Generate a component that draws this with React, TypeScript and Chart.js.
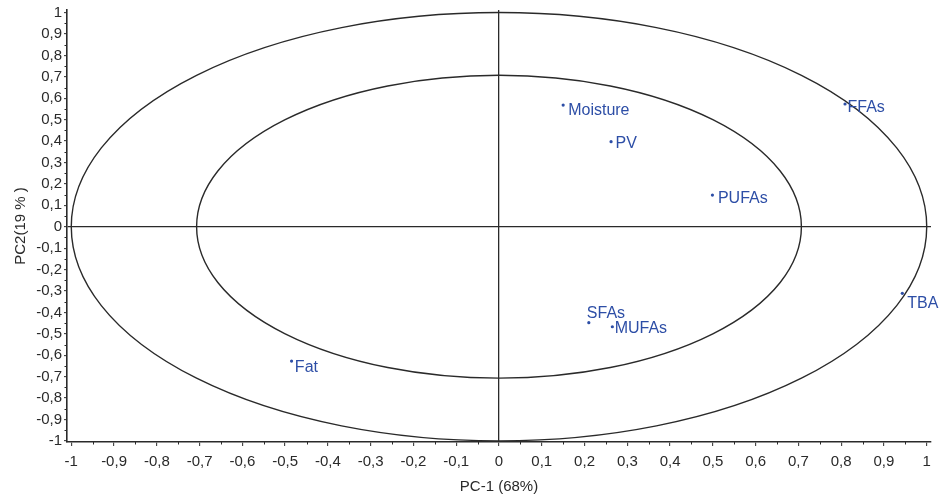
import React, { useEffect, useRef } from 'react';
import { Chart, registerables } from 'chart.js';

Chart.register(...registerables);

// ---- data ----
const variables = ['Moisture', 'PV', 'PUFAs', 'FFAs', 'TBA', 'SFAs', 'MUFAs', 'Fat'];
const pc1 = [0.15, 0.262, 0.499, 0.809, 0.943, 0.21, 0.265, -0.485];
const pc2 = [0.568, 0.397, 0.148, 0.573, -0.311, -0.448, -0.467, -0.627];
const axisTicks = [-1, -0.9, -0.8, -0.7, -0.6, -0.5, -0.4, -0.3, -0.2, -0.1, 0, 0.1, 0.2, 0.3, 0.4, 0.5, 0.6, 0.7, 0.8, 0.9, 1];
const circleRadii = [1, 0.707];
const xTitle = 'PC-1 (68%)';
const yTitle = 'PC2(19 % )';

// label placement relative to the point (px; alphabetic baseline)
const labelOffsets: Record<string, [number, number]> = {
  Moisture: [5, 10],
  PV: [4.5, 6.6],
  PUFAs: [5.5, 7.7],
  FFAs: [2.5, 8.3],
  TBA: [5, 14.4],
  SFAs: [-2, -4.4],
  MUFAs: [2.3, 6],
  Fat: [3.3, 10.7],
};

const INK = '#2a2a2a';
const BLUE = '#2d4ea6';
const FONT = '"Liberation Sans", Arial, sans-serif';

const fmt = (v: number) => {
  if (v === 0) return '0';
  if (Math.abs(v) === 1) return String(v);
  return v.toFixed(1).replace('.', ',');
};

const overlay = {
  id: 'overlay',
  beforeDatasetsDraw(chart: any) {
    const { ctx, scales } = chart;
    const x = scales.x;
    const y = scales.y;
    const cx = x.getPixelForValue(0);
    const cy = y.getPixelForValue(0);
    ctx.save();
    ctx.strokeStyle = INK;
    ctx.lineWidth = 1.4;
    circleRadii.forEach((r) => {
      const rx = x.getPixelForValue(r) - cx;
      const ry = cy - y.getPixelForValue(r);
      ctx.beginPath();
      ctx.ellipse(cx, cy, rx, ry, 0, 0, Math.PI * 2);
      ctx.stroke();
    });
    // minor ticks
    ctx.lineWidth = 1;
    for (let i = 0; i < axisTicks.length - 1; i++) {
      const m = (axisTicks[i] + axisTicks[i + 1]) / 2;
      const px = Math.round(x.getPixelForValue(m)) + 0.5;
      ctx.beginPath();
      ctx.moveTo(px, x.top);
      ctx.lineTo(px, x.top + 2.5);
      ctx.stroke();
      const py = Math.round(y.getPixelForValue(m)) + 0.5;
      ctx.beginPath();
      ctx.moveTo(y.right, py);
      ctx.lineTo(y.right - 2.5, py);
      ctx.stroke();
    }
    ctx.restore();
  },
  afterDatasetsDraw(chart: any) {
    const { ctx } = chart;
    const meta = chart.getDatasetMeta(0);
    ctx.save();
    ctx.fillStyle = BLUE;
    ctx.font = `16px ${FONT}`;
    ctx.textBaseline = 'alphabetic';
    ctx.textAlign = 'left';
    meta.data.forEach((el: any, i: number) => {
      const name = variables[i];
      const off = labelOffsets[name] || [4, 6];
      ctx.fillText(name, el.x + off[0], el.y + off[1]);
    });
    ctx.restore();
  },
};

export default function App() {
  const ref = useRef<HTMLCanvasElement | null>(null);
  useEffect(() => {
    if (!ref.current) return;
    Chart.defaults.font.family = FONT;
    const points = variables.map((_, i) => ({ x: pc1[i], y: pc2[i] }));
    const gridColor = (c: any) => (c.tick && c.tick.value === 0 ? INK : 'rgba(0,0,0,0)');
    const chart = new Chart(ref.current, {
      type: 'scatter',
      data: {
        datasets: [
          {
            label: 'loadings',
            data: points,
            pointRadius: 1.6,
            pointHoverRadius: 1.6,
            backgroundColor: BLUE,
            borderColor: BLUE,
            borderWidth: 0,
          },
        ],
      },
      options: {
        animation: false,
        responsive: false,
        maintainAspectRatio: false,
        layout: { padding: { top: 10, right: 13, left: 0, bottom: 0 } },
        plugins: { legend: { display: false }, tooltip: { enabled: false } },
        scales: {
          x: {
            type: 'linear',
            min: -1.01,
            max: 1.01,
            afterBuildTicks: (s: any) => {
              s.ticks = axisTicks.map((v) => ({ value: v }));
            },
            afterFit: (s: any) => {
              s.height = 54;
              s.paddingLeft = 0;
              s.paddingRight = 0;
            },
            ticks: {
              autoSkip: false,
              maxRotation: 0,
              padding: 7,
              color: INK,
              font: { size: 15 },
              callback: (v: any) => fmt(Number(v)),
            },
            grid: {
              drawOnChartArea: true,
              color: gridColor,
              lineWidth: 1.3,
              drawTicks: true,
              tickLength: 4,
              tickColor: INK,
              tickWidth: 1,
            },
            border: { display: true, color: INK, width: 1.6 },
            title: {
              display: true,
              text: xTitle,
              color: INK,
              font: { size: 15 },
              padding: { top: 0, bottom: 0 },
            },
          },
          y: {
            type: 'linear',
            min: -1.005,
            max: 1.012,
            afterBuildTicks: (s: any) => {
              s.ticks = axisTicks.map((v) => ({ value: v }));
            },
            afterFit: (s: any) => {
              s.width = 67;
              s.paddingTop = 0;
              s.paddingBottom = 0;
            },
            ticks: {
              autoSkip: false,
              padding: 2,
              color: INK,
              font: { size: 15 },
              callback: (v: any) => fmt(Number(v)),
            },
            grid: {
              drawOnChartArea: true,
              color: gridColor,
              lineWidth: 1.3,
              drawTicks: true,
              tickLength: 3,
              tickColor: INK,
              tickWidth: 1,
            },
            border: { display: true, color: INK, width: 1.6 },
            title: {
              display: true,
              text: yTitle,
              color: INK,
              font: { size: 15 },
              padding: { top: 12, bottom: 0 },
            },
          },
        },
      },
      plugins: [overlay],
    } as any);
    return () => chart.destroy();
  }, []);
  return (
    <div style={{ position: 'absolute', left: 0, top: 0, width: 944, height: 496, background: '#fff' }}>
      <canvas ref={ref} width={944} height={496} style={{ display: 'block' }} />
    </div>
  );
}
